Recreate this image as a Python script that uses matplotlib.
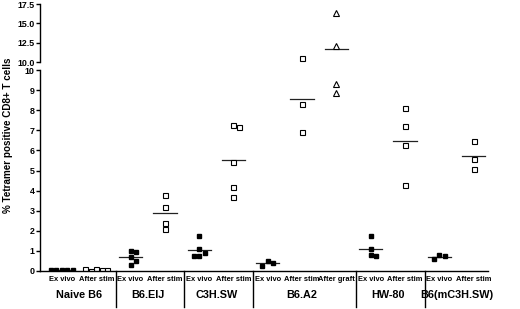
import numpy as np
import matplotlib
matplotlib.use("Agg")
import matplotlib.pyplot as plt
import matplotlib.transforms as mtransforms

plt.rcParams['font.family'] = ['Liberation Sans', 'DejaVu Sans']
plt.rcParams['font.weight'] = 'bold'

# --- data ---
groups = ["Naive B6", "B6.EIJ", "C3H.SW", "B6.A2", "HW-80", "B6(mC3H.SW)"]
group_sizes = [2, 2, 2, 3, 2, 2]
conditions = ["Ex vivo", "After stim",
              "Ex vivo", "After stim",
              "Ex vivo", "After stim",
              "Ex vivo", "After stim", "After graft",
              "Ex vivo", "After stim",
              "Ex vivo", "After stim"]

naive_ex = [0.05, 0.05, 0.05, 0.05, 0.05]
naive_stim = [0.12, 0.05, 0.02, 0.05, 0.1]
eij_ex = [1.0, 0.95, 0.7, 0.5, 0.3]
eij_stim = [3.8, 3.2, 2.4, 2.1]
c3h_ex = [1.74, 1.08, 0.88, 0.75, 0.75]
c3h_stim = [7.25, 7.18, 5.4, 4.16, 3.67]
a2_ex = [0.5, 0.4, 0.25]
a2_stim = [10.48, 8.32, 6.9]
a2_graft = [16.38, 12.07, 9.3, 8.84]
hw_ex = [1.76, 1.11, 0.81, 0.75]
hw_stim = [8.09, 7.23, 6.27, 4.29]
mc3h_ex = [0.8, 0.75, 0.58]
mc3h_stim = [6.47, 5.57, 5.09]

values = [naive_ex, naive_stim, eij_ex, eij_stim, c3h_ex, c3h_stim,
          a2_ex, a2_stim, a2_graft, hw_ex, hw_stim, mc3h_ex, mc3h_stim]

upper_ticks = [10.0, 12.5, 15.0, 17.5]
lower_ticks = [0, 1, 2, 3, 4, 5, 6, 7, 8, 9, 10]

marker_style = {
    "Ex vivo": dict(marker="s", mfc="black", mec="black", ms=3.4),
    "After stim": dict(marker="s", mfc="white", mec="black", ms=3.6, mew=0.8),
    "After graft": dict(marker="^", mfc="white", mec="black", ms=4.2, mew=0.8),
}


def spread(vals, step=0.16, px_x=34.25, px_y=20.1, min_d=5.2):
    # simple column scatter: push overlapping points sideways
    placed = []
    offs = []
    for v in vals:
        k = 0
        while True:
            cand = 0 if k == 0 else ((k + 1) // 2) * step * (1 if k % 2 else -1)
            ok = all(np.hypot((cand - o) * px_x, (v - w) * px_y) >= min_d
                     for o, w in placed)
            if ok:
                break
            k += 1
        placed.append((cand, v))
        offs.append(cand)
    return offs


fig = plt.figure(figsize=(5.2, 3.09), dpi=100)
left, right = 40 / 520, 488 / 520
ax_top = fig.add_axes([left, 1 - 62 / 309, right - left, 58 / 309])
ax_bot = fig.add_axes([left, 1 - 271 / 309, right - left, 201 / 309])

xs = np.arange(len(conditions))
for ax in (ax_top, ax_bot):
    for i, (cond, vals) in enumerate(zip(conditions, values)):
        offs = spread(vals)
        m = np.mean(vals)
        ax.plot([xs[i] - 0.34, xs[i] + 0.34], [m, m], color="#222222", lw=0.9)
        ax.plot(xs[i] + np.array(offs), vals, ls="none", **marker_style[cond])
    ax.set_xlim(-0.64, 12.42)
    for s in ("top", "right"):
        ax.spines[s].set_visible(False)
    ax.spines["left"].set_linewidth(1.0)
    ax.tick_params(axis="y", length=3, width=1.0, labelsize=6.4, pad=1)

ax_top.set_ylim(10, 17.5)
ax_top.set_yticks(upper_ticks)
ax_top.set_yticklabels(["%.1f" % t for t in upper_ticks])
ax_top.spines["bottom"].set_visible(False)
ax_top.set_xticks([])

ax_bot.set_ylim(0, 10)
ax_bot.set_yticks(lower_ticks)
ax_bot.set_xticks([])
ax_bot.spines["bottom"].set_linewidth(1.0)

trans = mtransforms.blended_transform_factory(ax_bot.transData, ax_bot.transAxes)
for i, cond in enumerate(conditions):
    ax_bot.text(xs[i], -0.04, cond, transform=trans, ha="center", va="center",
                fontsize=5.4, fontweight="bold")

start = 0
for g, n in zip(groups, group_sizes):
    centre = np.mean(xs[start:start + n])
    ax_bot.text(centre, -0.12, g, transform=trans, ha="center", va="center",
                fontsize=7.8, fontweight="bold")
    start += n
    if start < len(conditions):
        sep = start - 0.5 + 0.07
        ax_bot.plot([sep, sep], [0, -0.18], transform=trans, color="black",
                    lw=1.0, clip_on=False)

fig.text(0.016, 1 - 135 / 309, "% Tetramer positive CD8+ T cells", rotation=90,
         ha="center", va="center", fontsize=7.1, fontweight="bold")

fig.savefig("out.png", dpi=100)
